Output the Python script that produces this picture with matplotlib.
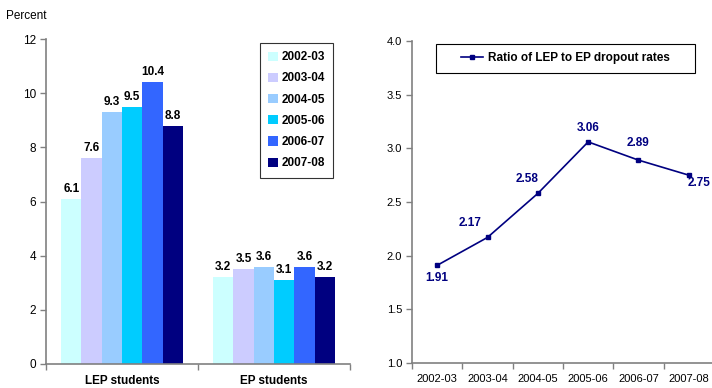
import matplotlib
matplotlib.use("Agg")
import matplotlib.pyplot as plt
from matplotlib.patches import Rectangle
import numpy as np

plt.rcParams['font.family'] = ['Liberation Sans', 'DejaVu Sans']

years = ["2002-03", "2003-04", "2004-05", "2005-06", "2006-07", "2007-08"]
groups = ["LEP students", "EP students"]
lep_rates = [6.1, 7.6, 9.3, 9.5, 10.4, 8.8]
ep_rates = [3.2, 3.5, 3.6, 3.1, 3.6, 3.2]
ratio = [1.91, 2.17, 2.58, 3.06, 2.89, 2.75]
bar_colors = ["#CCFFFF", "#CCCCFF", "#99CCFF", "#00CCFF", "#3366FF", "#000080"]
line_color = "#000080"
axis_gray = "#808080"

W, H = 712, 388
fig = plt.figure(figsize=(W/100, H/100), dpi=100)

# ---- Left panel: dropout rates by group ----
ax1 = fig.add_axes([46/W, 1-364/H, 304/W, 325/H])
n = len(years)
bw = 0.8 / n
centers = np.array([0.5, 1.5])
for i, (yr, col) in enumerate(zip(years, bar_colors)):
    vals = [lep_rates[i], ep_rates[i]]
    xs = centers - 0.4 + bw * (i + 0.5)
    ax1.bar(xs, vals, width=bw, color=col, label=yr, edgecolor='none')
    for x, v in zip(xs, vals):
        ax1.annotate(f"{v:.1f}", (x, v), xytext=(0, 4), textcoords='offset pixels',
                     ha='center', va='bottom', fontsize=8.5, fontweight='bold')

ax1.set_xlim(0, 2)
ax1.set_ylim(0, 12)
ax1.set_yticks(range(0, 13, 2))
ax1.set_xticks([0, 1, 2])
ax1.set_xticklabels([])
for c, g in zip(centers, groups):
    ax1.annotate(g, (c, 0), xytext=(0, -17), textcoords='offset pixels',
                 ha='center', va='center', fontsize=8.5, fontweight='bold')
ax1.tick_params(axis='y', direction='out', length=4, width=1,
                color=axis_gray, labelsize=8.5, pad=3)
ax1.tick_params(axis='x', direction='out', length=4, width=1,
                color=axis_gray)
for s in ['top', 'right']:
    ax1.spines[s].set_visible(False)
for s in ['left', 'bottom']:
    ax1.spines[s].set_color(axis_gray)
    ax1.spines[s].set_linewidth(1.2)
fig.text(6/W, 1-16/H, "Percent", fontsize=8.5, ha='left', va='center')

leg1 = ax1.legend(loc='upper left', bbox_to_anchor=((260-46)/304, (364-43)/325),
                  frameon=True, fancybox=False, edgecolor='black',
                  prop={'size': 8.5, 'weight': 'bold'}, handlelength=0.8,
                  handleheight=0.8, labelspacing=0.78, borderpad=0.7,
                  handletextpad=0.3, borderaxespad=0)
leg1.get_frame().set_linewidth(0.8)

# ---- Right panel: ratio of LEP to EP dropout rates ----
ax2 = fig.add_axes([412/W, 1-363/H, 302/W, 322/H])
xs2 = np.arange(n) + 0.5
ax2.plot(xs2, ratio, color=line_color, marker='s', markersize=3.5,
         linewidth=1.2, label="Ratio of LEP to EP dropout rates")
offsets = [(0, -13), (-17, 14), (-11, 14), (0, 14), (0, 17), (10, -8)]
for x, v, (dx, dy) in zip(xs2, ratio, offsets):
    ax2.annotate(f"{v:.2f}", (x, v), xytext=(dx, dy), textcoords='offset pixels',
                 ha='center', va='center', fontsize=8.5, fontweight='bold',
                 color=line_color)
ax2.set_xlim(0, 6)
ax2.set_ylim(1.0, 4.0)
ax2.set_yticks(np.arange(1.0, 4.01, 0.5))
ax2.yaxis.set_major_formatter(matplotlib.ticker.FormatStrFormatter('%.1f'))
ax2.set_xticks(range(0, 7))
ax2.set_xticklabels([])
ax2.set_xticks(xs2, minor=True)
ax2.set_xticklabels(years, minor=True)
ax2.tick_params(axis='x', which='minor', length=0, labelsize=8, pad=8)
ax2.tick_params(axis='x', which='major', direction='out', length=4, width=1,
                color=axis_gray)
ax2.tick_params(axis='y', direction='out', length=4, width=1,
                color=axis_gray, labelsize=8, pad=3)
for s in ['top', 'right']:
    ax2.spines[s].set_visible(False)
for s in ['left', 'bottom']:
    ax2.spines[s].set_color(axis_gray)
    ax2.spines[s].set_linewidth(1.2)

# legend box for the line panel
box = Rectangle((436/W, 1-73/H), (695-436)/W, 29/H, transform=fig.transFigure,
                facecolor='white', edgecolor='black', linewidth=0.8, zorder=5)
fig.add_artist(box)
leg2 = fig.legend(*ax2.get_legend_handles_labels(), loc='center',
                  bbox_to_anchor=((436+695)/2/W, 1-58.5/H),
                  frameon=False, prop={'size': 8.5, 'weight': 'bold'},
                  handlelength=1.9, handletextpad=0.4, borderaxespad=0)
leg2.set_zorder(6)

fig.savefig("out.png", dpi=100)
